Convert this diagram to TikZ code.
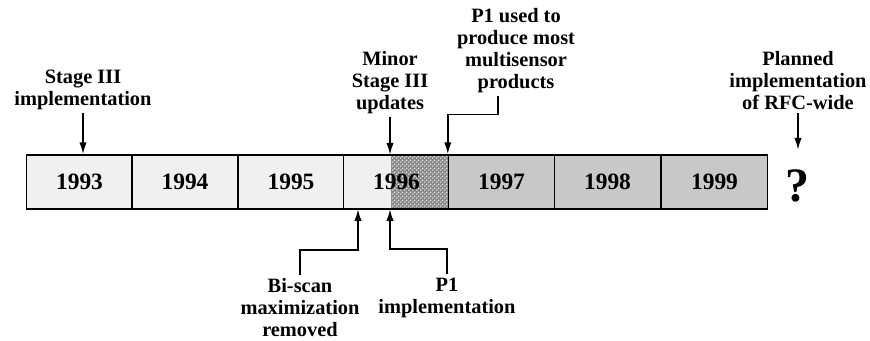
\documentclass[tikz,border=0pt]{standalone}
\usepackage{fontspec}
\setmainfont{Liberation Serif}
\usetikzlibrary{arrows.meta,patterns.meta}
\definecolor{early}{RGB}{240,240,240}
\definecolor{late}{RGB}{200,200,200}
\definecolor{grid}{RGB}{135,135,135}
\tikzdeclarepattern{name=holes,type=uncolored,
  bottom left={(0pt,0pt)},top right={(3.6pt,3.6pt)},tile size={(3.6pt,3.6pt)},
  code={\fill (0.9pt,0.9pt) circle (0.75pt); \fill (2.7pt,2.7pt) circle (0.75pt);}}
\tikzset{font=\bfseries}
\tikzset{
  year/.style={draw,line width=1.2pt,minimum width=3.18cm,minimum height=1.62cm,inner sep=0pt,font=\fontsize{20}{24}\selectfont\bfseries},
  note/.style={align=center,inner sep=2pt,font=\fontsize{17.4}{18.8}\selectfont\bfseries},
  mesh/.style={path picture={
      \fill[grid] ([xshift=-1.77cm]path picture bounding box.north east) rectangle (path picture bounding box.south east);
      \fill[pattern=holes,pattern color=white] ([xshift=-1.77cm]path picture bounding box.north east) rectangle (path picture bounding box.south east);
    }}
}

\begin{document}
\begin{tikzpicture}[x=0.03cm,y=0.03cm,>={Latex[length=3.6mm,width=2.2mm]},line width=1.5pt]
  \useasboundingbox (0,0) rectangle (870,341);

  % the years
  \node[year,fill=early] (Y1993) at (79.5,159) {1993};
  \node[year,fill=early] (Y1994) at (185,159) {1994};
  \node[year,fill=early] (Y1995) at (291,159) {1995};
  \node[year,fill=early,mesh] (Y1996) at (396.5,159) {1996};
  \node[year,fill=late] (Y1997) at (501.5,159) {1997};
  \node[year,fill=late] (Y1998) at (607.5,159) {1998};
  \node[year,fill=late] (Y1999) at (714.5,159) {1999};
  \node[font=\fontsize{41}{41}\selectfont\bfseries] (Unknown) at (797,155) {?};

  \coordinate (HatchTop) at (390,186);
  \coordinate (HatchBot) at (390,132);
  \coordinate (Removed) at (358,132);
  \coordinate (RFC) at (798,191);

  % events above
  \node[note] (Stage) at (83,251) {Stage III\\implementation};
  \node[note] (Minor) at (390,258.5) {Minor\\Stage III\\updates};
  \node[note] (Used) at (516,290) {P1 used to\\produce most\\multisensor\\products};
  \node[note] (Planned) at (798,260) {Planned\\implementation\\of RFC-wide};

  % events below
  \node[note] (Biscan) at (300,33.5) {Bi-scan\\maximization\\removed};
  \node[note] (Impl) at (447,43.5) {P1\\implementation};

  \draw[->] (Stage.south) -- (Stage.south |- Y1993.north);
  \draw[->] (Minor.south) -- (HatchTop);
  \draw[->] ([xshift=-0.54cm]Used.south) -- ++(0,-18) -| (Y1997.north west);
  \draw[->] (Planned.south) -- (RFC);

  \draw[->] (Biscan.north) -- ++(0,25) -| (Removed);
  \draw[->] (Impl.north) -- ++(0,25) -| (HatchBot);
\end{tikzpicture}
\end{document}
